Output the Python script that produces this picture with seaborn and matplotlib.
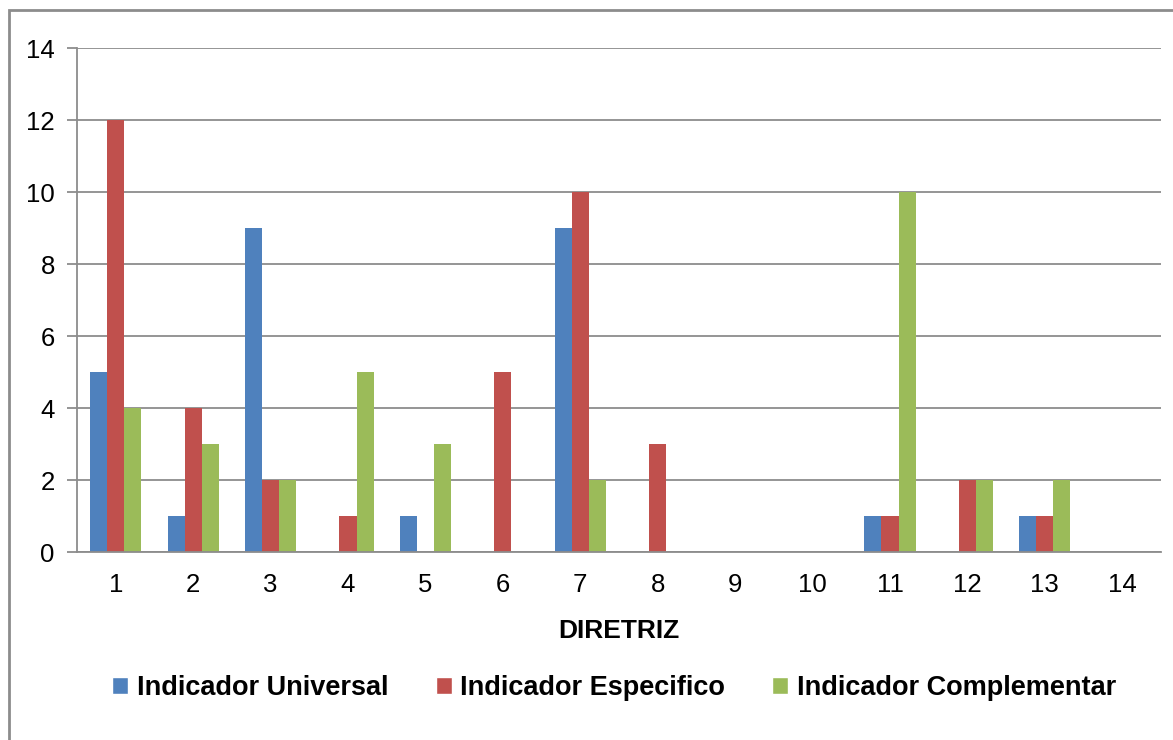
import matplotlib
matplotlib.use("Agg")
import matplotlib.pyplot as plt
import seaborn as sns
import pandas as pd
import numpy as np
from matplotlib.patches import Rectangle, Patch

diretriz = [str(i) for i in range(1, 15)]
universal = [5, 1, 9, 0, 1, 0, 9, 0, 0, 0, 1, 0, 1, 0]
especifico = [12, 4, 2, 1, 0, 5, 10, 3, 0, 0, 1, 2, 1, 0]
complementar = [4, 3, 2, 5, 3, 0, 2, 0, 0, 0, 10, 2, 2, 0]
series = ["Indicador Universal", "Indicador Especifico", "Indicador Complementar"]
colors = ["#4F81BD", "#C0504D", "#9BBB59"]

df = pd.DataFrame({
    "DIRETRIZ": diretriz * 3,
    "valor": universal + especifico + complementar,
    "serie": [series[0]] * 14 + [series[1]] * 14 + [series[2]] * 14,
})

sns.set_style("white")
plt.rcParams["font.family"] = ["Liberation Sans", "DejaVu Sans"]
plt.rcParams["text.color"] = "black"
plt.rcParams["xtick.color"] = "black"
plt.rcParams["ytick.color"] = "black"
plt.rcParams["axes.labelcolor"] = "black"

fig = plt.figure(figsize=(11.73, 7.40), dpi=100)
ax = fig.add_axes([77/1173, 1-552/740, (1161-77)/1173, (552-48)/740])

sns.barplot(data=df, x="DIRETRIZ", y="valor", hue="serie", palette=colors,
            width=0.66, ax=ax, saturation=1, legend=False, linewidth=0)

ax.set_ylim(0, 14)
ax.set_xlim(-0.5, 13.5)
ax.set_yticks(range(0, 15, 2))
ax.yaxis.grid(True, color="#8c8c8c", linewidth=1.3)
ax.set_axisbelow(True)
for s in ["top", "right"]:
    ax.spines[s].set_visible(False)
for s in ["left", "bottom"]:
    ax.spines[s].set_color("#8c8c8c")
    ax.spines[s].set_linewidth(1.3)

ax.set_xticks(np.arange(-0.5, 14, 1), minor=True)
ax.tick_params(axis="x", which="major", length=0, labelsize=18.5, pad=15)
ax.tick_params(axis="x", which="minor", length=8, width=1.3, color="#8c8c8c", direction="out")
ax.tick_params(axis="y", length=7, width=1.3, color="#8c8c8c", labelcolor="black",
               labelsize=18.5, pad=9, left=True)
ax.set_ylabel("")
ax.set_xlabel("DIRETRIZ", fontsize=19, fontweight="bold", labelpad=16)

handles = [Patch(facecolor=c, label=l) for c, l in zip(colors, series)]
fig.legend(handles=handles, loc="center", bbox_to_anchor=(614/1173, 1-688/740),
           ncol=3, frameon=False, prop={"size": 19.5, "weight": "bold"},
           handlelength=0.6, handleheight=0.6, handletextpad=0.3, columnspacing=1.75)

fig.patches.append(Rectangle((9/1173, -0.1), 1.2, 1-10/740 + 0.1, transform=fig.transFigure,
                             fill=False, edgecolor="#8c8c8c", linewidth=2))

fig.savefig("out.png", dpi=100)
